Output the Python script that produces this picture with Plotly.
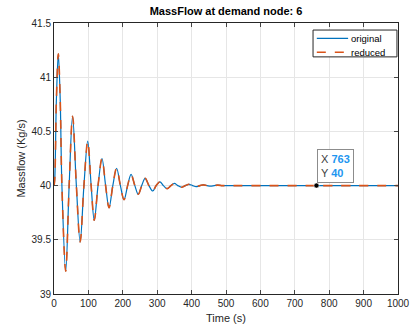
import plotly.graph_objects as go

# Damped oscillation (extrema and mid-crossings)
time_s = [0, 2, 7, 12.5, 18, 23, 34, 44, 54, 65, 76, 87, 98, 108, 117, 128, 139.5, 150, 160, 171, 182,
          193, 203.5, 214, 224, 235, 245, 255, 265, 276, 287, 297, 308, 318, 329, 340, 350,
          360, 371, 382, 392, 403, 413, 424, 434, 445, 455, 466, 476, 490, 520, 763, 1000]
massflow = [40.0, 40.05, 40.8, 41.215, 40.8, 40.0, 39.21, 40.0, 40.64, 40.0, 39.48, 40.0, 40.41, 40.0,
            39.68, 40.0, 40.25, 40.0, 39.795, 40.0, 40.16, 40.0, 39.87, 40.0, 40.104, 40.0, 39.92, 40.0,
            40.067, 40.0, 39.95, 40.0, 40.035, 40.0, 39.972, 40.0, 40.02, 40.0, 39.985, 40.0, 40.012,
            40.0, 39.99, 40.0, 40.007, 40.0, 39.995, 40.0, 40.004, 40.0, 40.0, 40.0, 40.0]
reduced = list(massflow)

series_names = ["original", "reduced"]
series_colors = ["#0072BD", "#D95319"]

tip_x = 763
tip_y = 40

x_ticks = [0, 100, 200, 300, 400, 500, 600, 700, 800, 900, 1000]
y_ticks = [39, 39.5, 40, 40.5, 41, 41.5]
y_ticklabels = ["39", "39.5", "40", "40.5", "41", "41.5"]

FONT = "Liberation Sans, Arial, Helvetica, sans-serif"

fig = go.Figure()
fig.add_trace(go.Scatter(x=time_s, y=massflow, mode="lines", name=series_names[0], showlegend=False,
                         line=dict(color=series_colors[0], width=1.2, shape="spline", smoothing=1.0)))
fig.add_trace(go.Scatter(x=time_s, y=reduced, mode="lines", name=series_names[1], showlegend=False,
                         line=dict(color=series_colors[1], width=1.6, dash="dash", shape="spline", smoothing=1.0)))
fig.add_trace(go.Scatter(x=[tip_x], y=[tip_y], mode="markers", showlegend=False,
                         marker=dict(color="black", size=5, line=dict(color="white", width=0.5))))

fig.add_annotation(x=tip_x, y=tip_y, xref="x", yref="y", showarrow=False,
                   xanchor="left", yanchor="bottom", xshift=1, yshift=3, align="left",
                   text=(f"X <span style='color:#1E96F0'><b>{tip_x}</b></span><br>"
                         f"Y <span style='color:#1E96F0'><b>{tip_y}</b></span>"),
                   font=dict(family=FONT, size=11, color="#404040"),
                   bgcolor="rgba(255,255,255,0.95)", bordercolor="#8C8C8C", borderwidth=1, borderpad=3)

# Compact legend box (MATLAB style)
fig.add_shape(type="rect", xref="paper", yref="paper", x0=0.753, x1=0.997, y0=0.875, y1=0.974,
              line=dict(color="#262626", width=1), fillcolor="white", layer="above")
leg_y = [0.9435, 0.892]
leg_dash = ["solid", "dash"]
leg_w = [1.2, 1.6]
for name, col, yy, dsh, w in zip(series_names, series_colors, leg_y, leg_dash, leg_w):
    fig.add_shape(type="line", xref="paper", yref="paper", x0=0.764, x1=0.855, y0=yy, y1=yy,
                  line=dict(color=col, width=w, dash=dsh), layer="above")
    fig.add_annotation(x=0.859, y=yy, xref="paper", yref="paper", text=name, showarrow=False,
                       xanchor="left", yanchor="middle", font=dict(family=FONT, size=9.5, color="black"))

fig.update_layout(
    width=411, height=331,
    margin=dict(l=54, r=13, t=23, b=37, autoexpand=False),
    paper_bgcolor="white", plot_bgcolor="white",
    font=dict(family=FONT, size=10, color="#262626"),
    title=dict(text="<b>MassFlow at demand node: 6</b>", x=0.55, xanchor="center",
               y=0.965, yanchor="middle", font=dict(family=FONT, size=11, color="black")),
    showlegend=False,
)
fig.update_xaxes(range=[0, 1000], tickvals=x_ticks, ticks="inside", ticklen=4, automargin=False,
                 showgrid=True, gridcolor="#E6E6E6", gridwidth=1,
                 showline=True, linecolor="#262626", linewidth=1, mirror="ticks",
                 zeroline=False, title=dict(text="Time (s)", standoff=6,
                                            font=dict(family=FONT, size=11, color="#262626")))
fig.update_yaxes(range=[39, 41.5], tickvals=y_ticks, ticktext=y_ticklabels, ticks="inside", ticklen=4,
                 automargin=False,
                 showgrid=True, gridcolor="#E6E6E6", gridwidth=1,
                 showline=True, linecolor="#262626", linewidth=1, mirror="ticks",
                 zeroline=False, title=dict(text="Massflow (Kg/s)", standoff=3,
                                            font=dict(family=FONT, size=11, color="#262626")))

fig.write_html("out.html")
